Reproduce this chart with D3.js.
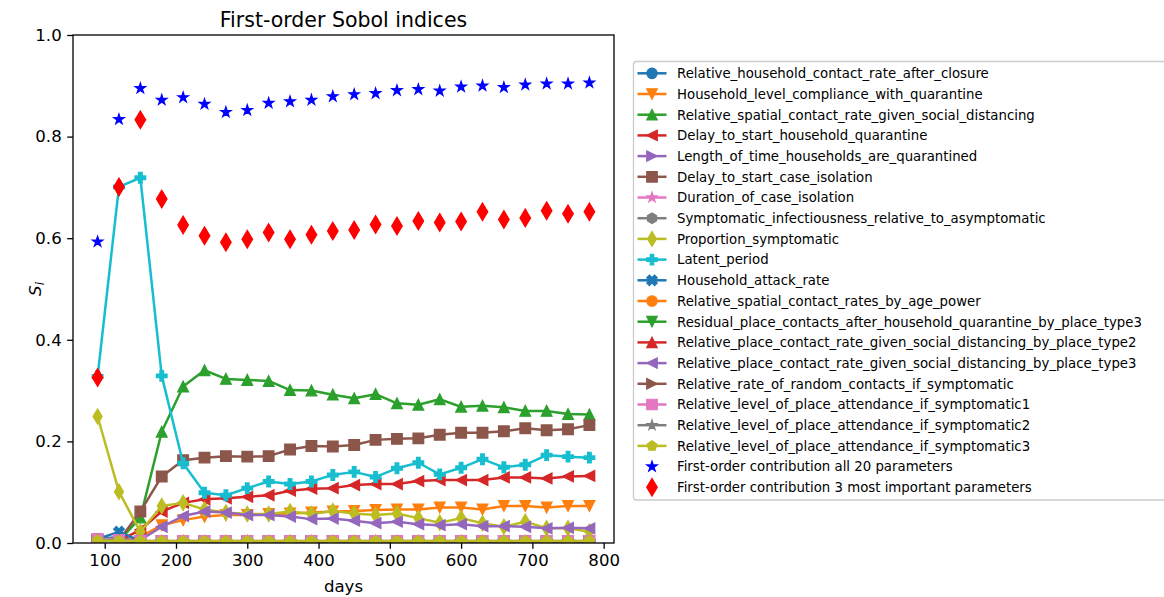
<!DOCTYPE html>
<html>
<head>
<meta charset="utf-8">
<script src="https://cdn.jsdelivr.net/npm/d3@7"></script>
<style>
  body { margin: 0; background: #fff; }
  text { font-family: "DejaVu Sans", sans-serif; }
</style>
</head>
<body>
<div class="SobolChart"></div>
<script>
// sample days
var days = [90,120,150,180,210,240,270,300,330,360,390,420,450,480,510,540,570,600,630,660,690,720,750,780];

// first-order index for every parameter
var relHouseholdContact       = [0.008,0.012,0.004,0.003,0.003,0.003,0.003,0.003,0.003,0.003,0.003,0.003,0.003,0.003,0.003,0.003,0.003,0.003,0.003,0.003,0.003,0.003,0.003,0.003];
var householdCompliance       = [0.004,0.004,0.012,0.035,0.045,0.052,0.055,0.055,0.057,0.058,0.060,0.062,0.063,0.065,0.066,0.066,0.070,0.070,0.066,0.073,0.073,0.070,0.073,0.073];
var spatialContactSD          = [0.005,0.004,0.050,0.219,0.308,0.340,0.323,0.321,0.319,0.301,0.300,0.292,0.285,0.293,0.275,0.272,0.283,0.268,0.270,0.267,0.260,0.260,0.254,0.253];
var delayHouseholdQuarantine  = [0.005,0.004,0.026,0.062,0.079,0.086,0.088,0.091,0.094,0.103,0.107,0.108,0.114,0.116,0.116,0.122,0.124,0.124,0.124,0.129,0.129,0.127,0.131,0.132];
var lengthQuarantine          = [0.006,0.004,0.003,0.003,0.003,0.003,0.003,0.003,0.003,0.003,0.003,0.003,0.003,0.003,0.003,0.003,0.003,0.003,0.003,0.003,0.003,0.003,0.003,0.003];
var delayCaseIsolation        = [0.005,0.005,0.062,0.131,0.163,0.168,0.171,0.170,0.171,0.184,0.191,0.190,0.193,0.203,0.205,0.206,0.213,0.217,0.217,0.220,0.226,0.222,0.224,0.232];
var durationCaseIsolation     = [0.006,0.005,0.003,0.003,0.003,0.003,0.003,0.003,0.003,0.003,0.003,0.003,0.003,0.003,0.003,0.003,0.003,0.003,0.003,0.003,0.003,0.003,0.003,0.003];
var symptomaticInfectiousness = [0.007,0.010,0.003,0.003,0.003,0.003,0.003,0.003,0.003,0.003,0.003,0.003,0.003,0.003,0.003,0.003,0.003,0.003,0.003,0.003,0.003,0.003,0.003,0.003];
var proportionSymptomatic     = [0.249,0.101,0.022,0.073,0.079,0.066,0.060,0.057,0.057,0.062,0.057,0.063,0.058,0.055,0.058,0.049,0.040,0.049,0.039,0.032,0.042,0.029,0.029,0.022];
var latentPeriod              = [0.328,0.701,0.719,0.329,0.157,0.099,0.094,0.108,0.121,0.116,0.121,0.134,0.140,0.130,0.147,0.158,0.135,0.148,0.165,0.149,0.154,0.173,0.170,0.168];
var householdAttackRate       = [0.008,0.022,0.004,0.003,0.003,0.003,0.003,0.003,0.003,0.003,0.003,0.003,0.003,0.003,0.003,0.003,0.003,0.003,0.003,0.003,0.003,0.003,0.003,0.003];
var ageContactPower           = [0.006,0.005,0.003,0.003,0.003,0.003,0.003,0.003,0.003,0.003,0.003,0.003,0.003,0.003,0.003,0.003,0.003,0.003,0.003,0.003,0.003,0.003,0.003,0.003];
var residualPlaceContacts3    = [0.006,0.005,0.003,0.003,0.003,0.003,0.003,0.003,0.003,0.003,0.003,0.003,0.003,0.003,0.003,0.003,0.003,0.003,0.003,0.003,0.003,0.003,0.003,0.003];
var placeContactSD2           = [0.006,0.005,0.003,0.003,0.003,0.003,0.003,0.003,0.003,0.003,0.003,0.003,0.003,0.003,0.003,0.003,0.003,0.003,0.003,0.003,0.003,0.003,0.003,0.003];
var placeContactSD3           = [0.004,0.004,0.006,0.032,0.053,0.062,0.060,0.055,0.055,0.052,0.047,0.048,0.044,0.039,0.042,0.037,0.035,0.037,0.033,0.033,0.032,0.029,0.030,0.029];
var randomContactsSymptomatic = [0.006,0.005,0.003,0.003,0.003,0.003,0.003,0.003,0.003,0.003,0.003,0.003,0.003,0.003,0.003,0.003,0.003,0.003,0.003,0.003,0.003,0.003,0.003,0.003];
var placeAttendance1          = [0.008,0.006,0.004,0.004,0.004,0.004,0.004,0.004,0.004,0.004,0.004,0.004,0.004,0.004,0.004,0.004,0.004,0.004,0.004,0.004,0.004,0.004,0.004,0.004];
var placeAttendance2          = [0.006,0.005,0.003,0.003,0.003,0.003,0.003,0.003,0.003,0.003,0.003,0.003,0.003,0.003,0.003,0.003,0.003,0.003,0.003,0.003,0.003,0.003,0.003,0.003];
var placeAttendance3          = [0.005,0.004,0.004,0.004,0.004,0.004,0.004,0.004,0.004,0.004,0.004,0.004,0.004,0.004,0.004,0.004,0.004,0.004,0.004,0.004,0.004,0.004,0.004,0.004];

// sums
var firstOrderAll  = [0.593,0.834,0.895,0.872,0.877,0.864,0.848,0.852,0.866,0.869,0.872,0.879,0.883,0.885,0.891,0.893,0.890,0.898,0.900,0.897,0.902,0.904,0.904,0.906];
var firstOrderTop3 = [0.326,0.701,0.833,0.677,0.626,0.605,0.592,0.598,0.611,0.598,0.607,0.614,0.616,0.627,0.624,0.634,0.631,0.633,0.652,0.637,0.640,0.654,0.648,0.652];

var paramNames = [
  "Relative_household_contact_rate_after_closure",
  "Household_level_compliance_with_quarantine",
  "Relative_spatial_contact_rate_given_social_distancing",
  "Delay_to_start_household_quarantine",
  "Length_of_time_households_are_quarantined",
  "Delay_to_start_case_isolation",
  "Duration_of_case_isolation",
  "Symptomatic_infectiousness_relative_to_asymptomatic",
  "Proportion_symptomatic",
  "Latent_period",
  "Household_attack_rate",
  "Relative_spatial_contact_rates_by_age_power",
  "Residual_place_contacts_after_household_quarantine_by_place_type3",
  "Relative_place_contact_rate_given_social_distancing_by_place_type2",
  "Relative_place_contact_rate_given_social_distancing_by_place_type3",
  "Relative_rate_of_random_contacts_if_symptomatic",
  "Relative_level_of_place_attendance_if_symptomatic1",
  "Relative_level_of_place_attendance_if_symptomatic2",
  "Relative_level_of_place_attendance_if_symptomatic3"
];
var paramValues = [relHouseholdContact, householdCompliance, spatialContactSD, delayHouseholdQuarantine,
  lengthQuarantine, delayCaseIsolation, durationCaseIsolation, symptomaticInfectiousness,
  proportionSymptomatic, latentPeriod, householdAttackRate, ageContactPower, residualPlaceContacts3,
  placeContactSD2, placeContactSD3, randomContactsSymptomatic, placeAttendance1, placeAttendance2, placeAttendance3];

var xTicks = [100,200,300,400,500,600,700,800];
var yTicks = [0,0.2,0.4,0.6,0.8,1.0];

// matplotlib-ish marker cycle
var markerCycle = ["o","v","^","<",">","s","*","h","d","P","X","o","v","^","<",">","s","*","p"];
var color = function(i) { return d3.schemeCategory10[i % 10]; };

var margin = {top: 35, right: 550, bottom: 54, left: 73},
    width = 1164 - margin.left - margin.right,
    height = 597 - margin.top - margin.bottom;

var svg = d3.select(".SobolChart").append("svg")
    .attr("width", 1164)
    .attr("height", 597);

var g = svg.append("g")
    .attr("transform", "translate(" + margin.left + "," + margin.top + ")");

var x = d3.scaleLinear().domain([55.5, 814.5]).range([0, width]);
var y = d3.scaleLinear().domain([0, 1]).range([height, 0]);

function polygon(n, r, inner) {
  var pts = [];
  var k = inner ? n * 2 : n;
  for (var i = 0; i < k; i++) {
    var a = -Math.PI / 2 + i * 2 * Math.PI / k;
    var rr = (inner && i % 2) ? r * inner : r;
    pts.push([rr * Math.cos(a), rr * Math.sin(a)]);
  }
  return "M" + pts.map(function(p){ return p[0].toFixed(2) + "," + p[1].toFixed(2); }).join("L") + "Z";
}

function fromPts(pts, s) {
  return "M" + pts.map(function(p){ return (p[0] * s).toFixed(2) + "," + (p[1] * s).toFixed(2); }).join("L") + "Z";
}

function markerPath(m, s) {
  var h = s / 2;
  switch (m) {
    case "o": return "M" + h + ",0A" + h + "," + h + " 0 1,1 " + (-h) + ",0A" + h + "," + h + " 0 1,1 " + h + ",0Z";
    case "^": return fromPts([[0,-1],[1,1],[-1,1]], h);
    case "v": return fromPts([[0,1],[1,-1],[-1,-1]], h);
    case "<": return fromPts([[-1,0],[1,-1],[1,1]], h);
    case ">": return fromPts([[1,0],[-1,-1],[-1,1]], h);
    case "s": return fromPts([[-1,-1],[1,-1],[1,1],[-1,1]], h);
    case "*": return polygon(5, h, 0.381966);
    case "h": return polygon(6, h);
    case "p": return polygon(5, h);
    case "d": return fromPts([[0,-0.707],[0.424,0],[0,0.707],[-0.424,0]], s);
    case "P": return fromPts([[-1,-3],[1,-3],[1,-1],[3,-1],[3,1],[1,1],[1,3],[-1,3],[-1,1],[-3,1],[-3,-1],[-1,-1]], s / 6);
    case "X": return fromPts([[-1,-2],[0,-1],[1,-2],[2,-1],[1,0],[2,1],[1,2],[0,1],[-1,2],[-2,1],[-1,0],[-2,-1]], s / 4);
  }
}

var ms = 10.5;

svg.append("defs").append("clipPath").attr("id", "plotclip")
  .append("rect").attr("width", width).attr("height", height);

var plot = g.append("g").attr("clip-path", "url(#plotclip)");

var line = d3.line()
    .x(function(d, i){ return x(days[i]); })
    .y(function(d){ return y(d); });

paramValues.forEach(function(vals, k) {
  var sg = plot.append("g").attr("class", "series");
  sg.append("path")
      .datum(vals)
      .attr("fill", "none")
      .attr("stroke", color(k))
      .attr("stroke-width", 2.5)
      .attr("stroke-linejoin", "round")
      .attr("d", line);
  sg.selectAll(".mk")
      .data(vals)
      .enter().append("path")
      .attr("class", "mk")
      .attr("transform", function(d, i){ return "translate(" + x(days[i]) + "," + y(d) + ")"; })
      .attr("d", markerPath(markerCycle[k], ms))
      .attr("fill", color(k))
      .attr("stroke", color(k))
      .attr("stroke-width", 1.4)
      .attr("stroke-linejoin", "miter");
});

plot.selectAll(".allstar")
    .data(firstOrderAll)
    .enter().append("path")
    .attr("class", "allstar")
    .attr("transform", function(d, i){ return "translate(" + x(days[i]) + "," + y(d) + ")"; })
    .attr("d", markerPath("*", 11))
    .attr("fill", "blue")
    .attr("stroke", "blue")
    .attr("stroke-width", 1.2);

plot.selectAll(".top3")
    .data(firstOrderTop3)
    .enter().append("path")
    .attr("class", "top3")
    .attr("transform", function(d, i){ return "translate(" + x(days[i]) + "," + y(d) + ")"; })
    .attr("d", markerPath("d", 12.5))
    .attr("fill", "red")
    .attr("stroke", "red")
    .attr("stroke-width", 1.2);

// axes
var xAxis = d3.axisBottom(x).tickValues(xTicks).tickSize(5.8).tickPadding(5);
var yAxis = d3.axisLeft(y).tickValues(yTicks).tickSize(5.8).tickPadding(5.5).tickFormat(d3.format(".1f"));

var gx = g.append("g")
    .attr("transform", "translate(0," + height + ")")
    .call(xAxis);
var gy = g.append("g").call(yAxis);

[gx, gy].forEach(function(a) {
  a.select(".domain").remove();
  a.selectAll("line").attr("stroke", "#000").attr("stroke-width", 1.3);
  a.selectAll("text").attr("font-family", "DejaVu Sans").attr("font-size", 16.6).attr("fill", "#000");
});

g.append("rect")
    .attr("width", width).attr("height", height)
    .attr("fill", "none").attr("stroke", "#000").attr("stroke-width", 1.3);

// labels
g.append("text")
    .attr("text-anchor", "middle")
    .attr("x", width / 2).attr("y", -8)
    .attr("font-size", 20.5)
    .text("First-order Sobol indices");

g.append("text")
    .attr("text-anchor", "middle")
    .attr("x", width / 2).attr("y", height + 49)
    .attr("font-size", 16.6)
    .text("days");

var yl = svg.append("text")
    .attr("text-anchor", "middle")
    .attr("transform", "translate(" + 41 + "," + (margin.top + height / 2) + ")rotate(-90)")
    .attr("font-size", 16.6);
yl.append("tspan").attr("font-style", "italic").text("S");
yl.append("tspan").attr("font-style", "italic").attr("font-size", 11.6).attr("dy", 3).text("i");

// legend
var legX = 633.5, legY = 61.5, rowH = 20.7;
var leg = svg.append("g").attr("class", "legend");
leg.append("rect")
    .attr("x", legX).attr("y", legY)
    .attr("width", 560).attr("height", 438.5)
    .attr("rx", 3)
    .attr("fill", "#fff").attr("fill-opacity", 0.8)
    .attr("stroke", "#cccccc").attr("stroke-width", 1.3);

var entries = paramNames.map(function(n, k) {
  return {label: n, marker: markerCycle[k], color: color(k), line: true, size: ms};
});
entries.push({label: "First-order contribution all 20 parameters", marker: "*", color: "blue", line: false, size: 11});
entries.push({label: "First-order contribution 3 most important parameters", marker: "d", color: "red", line: false, size: 12.5});

var rows = leg.selectAll(".row")
    .data(entries)
    .enter().append("g")
    .attr("class", "row")
    .attr("transform", function(d, i){ return "translate(" + legX + "," + (73.3 + i * rowH) + ")"; });

rows.filter(function(d){ return d.line; }).append("line")
    .attr("x1", 4).attr("x2", 33)
    .attr("stroke", function(d){ return d.color; })
    .attr("stroke-width", 2.5);

rows.append("path")
    .attr("transform", "translate(18.5,0)")
    .attr("d", function(d){ return markerPath(d.marker, d.size); })
    .attr("fill", function(d){ return d.color; })
    .attr("stroke", function(d){ return d.color; })
    .attr("stroke-width", 1.2);

rows.append("text")
    .attr("x", 43.5).attr("y", 4.8)
    .attr("font-size", 13.3)
    .text(function(d){ return d.label; });
</script>
</body>
</html>
